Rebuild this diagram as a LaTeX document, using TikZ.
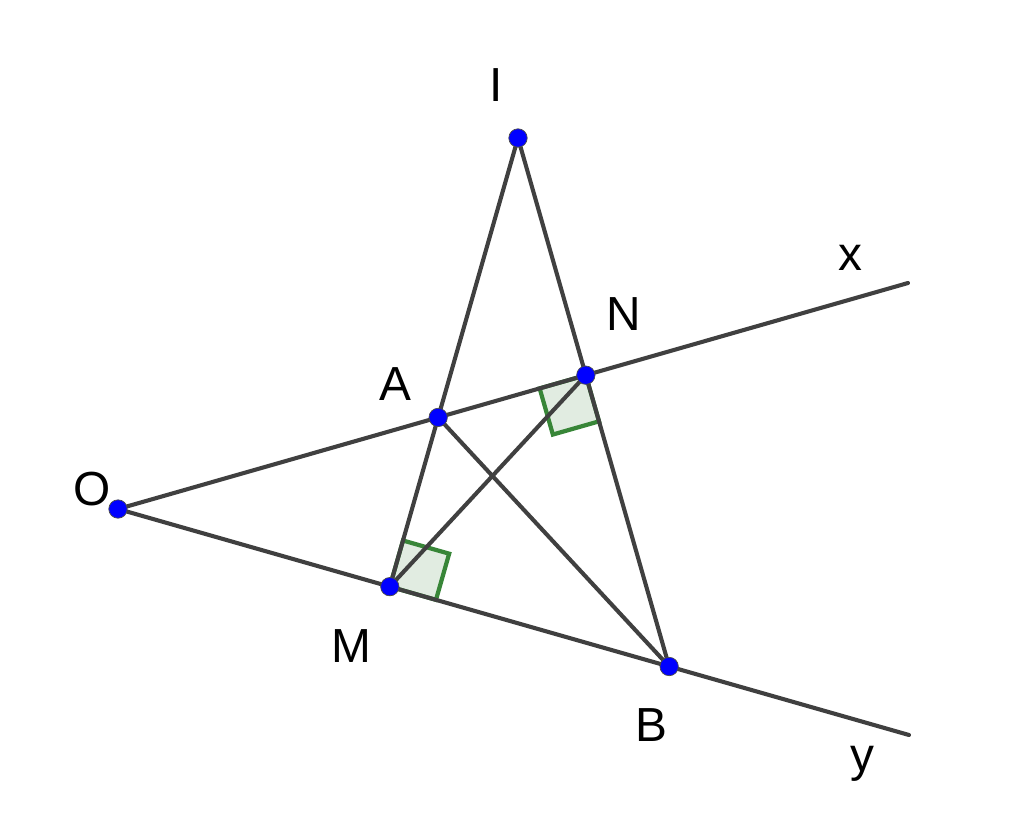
\documentclass[tikz,border=0pt]{standalone}
\usepackage{fontspec}
\setmainfont{Liberation Sans}
\usetikzlibrary{calc}
\definecolor{linegray}{RGB}{64,64,64}
\definecolor{angleline}{RGB}{56,134,56}
\definecolor{anglefill}{RGB}{225,236,225}
\tikzset{
	geo/.style={line width=2.9pt,linegray,line cap=round},
	point/.style={circle,draw=black!70,line width=0.5pt,fill=blue,inner sep=0pt,minimum size=0.46cm},
	rightangle/.style={draw=angleline,line width=3pt,fill=anglefill,line join=miter},
	lbl/.style={anchor=base,inner sep=0pt,font=\fontsize{34}{40}\selectfont}
}
\begin{document}
\begin{tikzpicture}[x=0.025cm,y=-0.025cm]
	\useasboundingbox (0,0) rectangle (1024,823);
	
	\coordinate (O) at (118,509);
	\coordinate (X) at (908,283);
	\coordinate (Y) at (909,735);
	\coordinate (I) at (518,138);
	\coordinate (N) at ($(O)!(I)!(X)$);
	\coordinate (M) at ($(O)!(I)!(Y)$);
	\coordinate (A) at (intersection of I--M and O--X);
	\coordinate (B) at (intersection of I--N and O--Y);
	
	% right angle marks
	\def\sq{1.2cm}
	\coordinate (m1) at ($(M)!\sq!(I)$);
	\coordinate (m3) at ($(M)!\sq!(B)$);
	\coordinate (n1) at ($(N)!\sq!(O)$);
	\coordinate (n3) at ($(N)!\sq!(B)$);
	\draw[rightangle] (M) -- (m1) -- ($(m1)+(m3)-(M)$) -- (m3) -- cycle;
	\draw[rightangle] (N) -- (n1) -- ($(n1)+(n3)-(N)$) -- (n3) -- cycle;
	
	\draw[geo] (O) -- (X);
	\draw[geo] (O) -- (Y);
	\draw[geo] (I) -- (M);
	\draw[geo] (I) -- (B);
	\draw[geo] (A) -- (B);
	\draw[geo] (M) -- (N);
	
	\foreach \p in {O,A,N,I,M,B}
		\node[point] (dot\p) at (\p) {};
	
	\node[lbl] (lI) at (496,101) {I};
	\node[lbl] (lN) at (624,330) {N};
	\node[lbl] (lA) at (395,400) {A};
	\node[lbl] (lO) at (92,505) {O};
	\node[lbl] (lM) at (351,662) {M};
	\node[lbl] (lB) at (651,741) {B};
	\node[lbl] (lx) at (850,270) {x};
	\node[lbl] (ly) at (862,771) {y};
	
\end{tikzpicture}
\end{document}
